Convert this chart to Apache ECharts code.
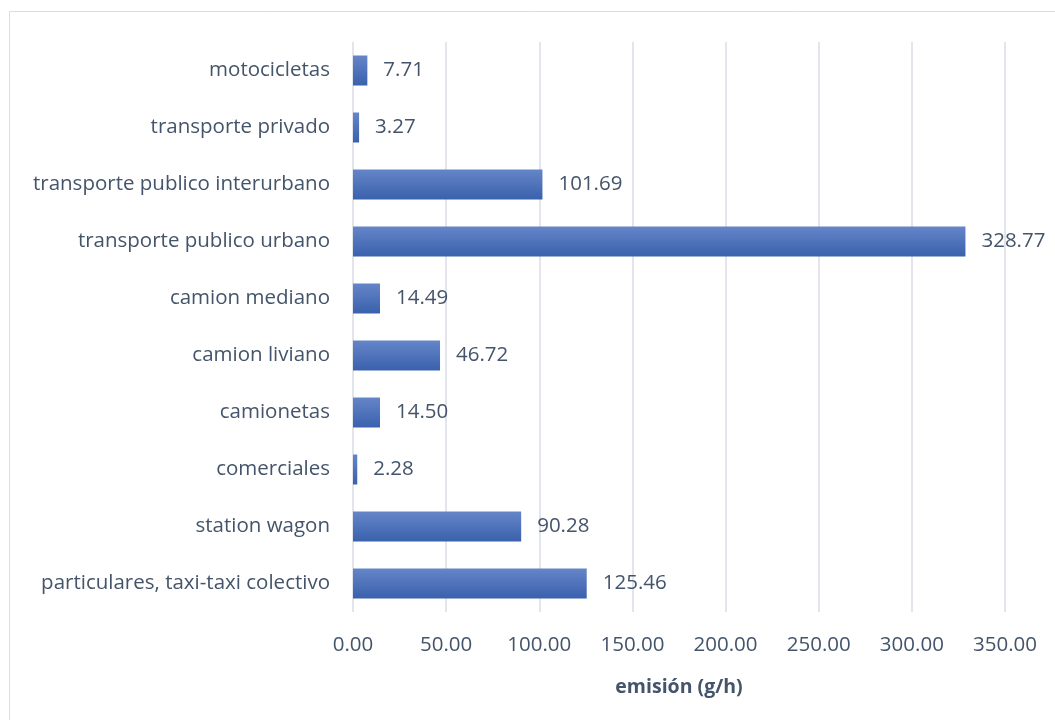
<!DOCTYPE html>
<html>
<head>
<meta charset="utf-8">
<script src="https://cdn.jsdelivr.net/npm/echarts@6/dist/echarts.min.js"></script>
<style>
  html, body { margin: 0; padding: 0; background: #fff; }
  #chart { width: 1055px; height: 720px; }
</style>
</head>
<body>
<div id="chart"></div>
<script>
// categories bottom to top (as echarts draws a category y axis)
var categories = [
    'particulares, taxi-taxi colectivo',
    'station wagon',
    'comerciales',
    'camionetas',
    'camion liviano',
    'camion mediano',
    'transporte publico urbano',
    'transporte publico interurbano',
    'transporte privado',
    'motocicletas'
];
var emissions = [125.46, 90.28, 2.28, 14.50, 46.72, 14.49, 328.77, 101.69, 3.27, 7.71];

var textColor = '#44546a';
var font = 'Open Sans';

var chart = echarts.init(document.getElementById('chart'));
chart.setOption({
    animation: false,
    graphic: [{
        type: 'rect',
        shape: { x: 9.5, y: 11.5, width: 1060, height: 720 },
        style: { fill: 'none', stroke: '#d9dde3', lineWidth: 1 }
    }],
    grid: { left: 353, right: 50, top: 42, bottom: 108 },
    xAxis: {
        type: 'value',
        min: 0,
        max: 350,
        interval: 50,
        name: 'emisión (g/h)',
        nameLocation: 'middle',
        nameGap: 65,
        nameTextStyle: { color: textColor, fontSize: 19.5, fontWeight: 'bold', fontFamily: font },
        axisLine: { show: false },
        axisTick: { show: false },
        axisLabel: {
            color: textColor, fontSize: 20.5, fontFamily: font, margin: 23,
            formatter: function (v) { return v.toFixed(2); }
        },
        splitLine: { lineStyle: { color: '#d9dee6', width: 1.5 } }
    },
    yAxis: {
        type: 'category',
        data: categories,
        axisLine: { show: false },
        axisTick: { show: false },
        axisLabel: { color: textColor, fontSize: 20.5, fontFamily: font, margin: 23 }
    },
    series: [{
        type: 'bar',
        data: emissions,
        barWidth: 30,
        itemStyle: {
            color: new echarts.graphic.LinearGradient(0, 0, 0, 1, [
                { offset: 0, color: '#6585c8' },
                { offset: 1, color: '#3a61ad' }
            ])
        },
        label: {
            show: true,
            position: 'right',
            distance: 16,
            color: textColor,
            fontSize: 20.5,
            fontFamily: font,
            formatter: function (p) { return p.value.toFixed(2); }
        }
    }]
});
</script>
</body>
</html>
